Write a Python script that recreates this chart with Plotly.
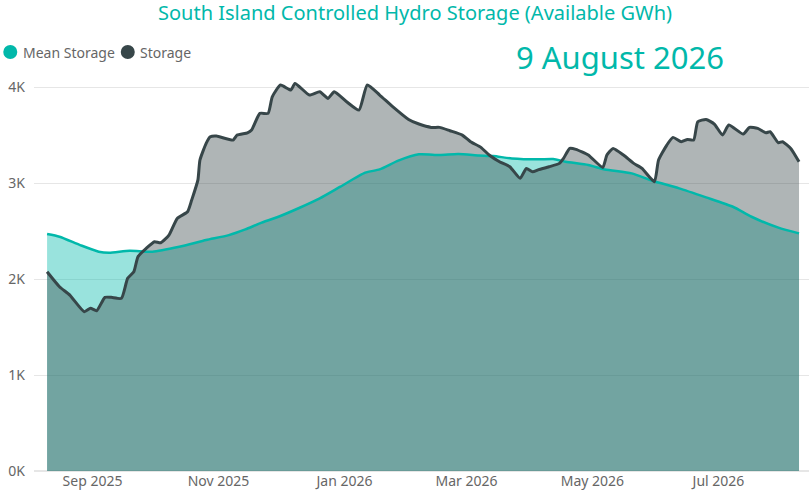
import plotly.graph_objects as go

# Mean storage (GWh)
mean_dates = [
    "2025-08-10", "2025-08-16", "2025-08-26", "2025-09-04", "2025-09-09", "2025-09-19",
    "2025-09-30", "2025-10-13", "2025-10-26", "2025-11-06", "2025-11-14", "2025-11-21",
    "2025-11-30", "2025-12-10", "2025-12-20", "2025-12-30", "2026-01-11", "2026-01-18",
    "2026-01-27", "2026-02-06", "2026-02-16", "2026-02-25", "2026-03-07", "2026-03-14",
    "2026-03-23", "2026-04-05", "2026-04-12", "2026-04-18", "2026-04-29", "2026-05-07",
    "2026-05-20", "2026-05-30", "2026-06-12", "2026-06-25", "2026-07-08", "2026-07-17",
    "2026-07-30", "2026-08-09",
]
mean_storage = [
    2469, 2441, 2354, 2285, 2274, 2295,
    2285, 2337, 2406, 2458, 2517, 2580,
    2649, 2740, 2840, 2962, 3108, 3142,
    3233, 3299, 3292, 3302, 3288, 3281,
    3257, 3247, 3250, 3222, 3188, 3142,
    3101, 3024, 2945, 2851, 2753, 2649,
    2535, 2476,
]

# Actual storage (GWh)
storage_dates = [
    "2025-08-10", "2025-08-16", "2025-08-21", "2025-08-28", "2025-08-31", "2025-09-03",
    "2025-09-07", "2025-09-10", "2025-09-15", "2025-09-18", "2025-09-21", "2025-09-23",
    "2025-09-27", "2025-10-01", "2025-10-04", "2025-10-08", "2025-10-12", "2025-10-17",
    "2025-10-19", "2025-10-22", "2025-10-23", "2025-10-26", "2025-10-28", "2025-10-31",
    "2025-11-08", "2025-11-10", "2025-11-15", "2025-11-17", "2025-11-21", "2025-11-25",
    "2025-11-27", "2025-12-01", "2025-12-06", "2025-12-08", "2025-12-15", "2025-12-20",
    "2025-12-24", "2025-12-27", "2026-01-02", "2026-01-08", "2026-01-12", "2026-01-18",
    "2026-01-24", "2026-02-01", "2026-02-06", "2026-02-12", "2026-02-16", "2026-02-21",
    "2026-02-27", "2026-03-03", "2026-03-08", "2026-03-12", "2026-03-17", "2026-03-22",
    "2026-03-27", "2026-03-30", "2026-04-02", "2026-04-05", "2026-04-10", "2026-04-15",
    "2026-04-17", "2026-04-20", "2026-04-23", "2026-04-29", "2026-05-06", "2026-05-08",
    "2026-05-11", "2026-05-16", "2026-05-21", "2026-05-25", "2026-05-31", "2026-06-02",
    "2026-06-06", "2026-06-09", "2026-06-13", "2026-06-16", "2026-06-19", "2026-06-21",
    "2026-06-25", "2026-06-29", "2026-07-03", "2026-07-06", "2026-07-13", "2026-07-16",
    "2026-07-20", "2026-07-24", "2026-07-26", "2026-07-30", "2026-08-01", "2026-08-05",
    "2026-08-09",
]
storage = [
    2076, 1920, 1833, 1660, 1695, 1670,
    1809, 1809, 1799, 2007, 2076, 2233,
    2320, 2389, 2378, 2458, 2632, 2701,
    2823, 3031, 3240, 3413, 3482, 3490,
    3448, 3500, 3524, 3552, 3726, 3726,
    3899, 4021, 3969, 4038, 3917, 3951,
    3882, 3951, 3847, 3760, 4021, 3917,
    3802, 3663, 3615, 3580, 3580, 3545,
    3500, 3431, 3372, 3292, 3222, 3170,
    3049, 3153, 3118, 3140, 3170, 3205,
    3257, 3361, 3351, 3292, 3163, 3292,
    3361, 3292, 3205, 3153, 3014, 3240,
    3396, 3476, 3431, 3455, 3448, 3639,
    3663, 3615, 3500, 3604, 3510, 3580,
    3570, 3524, 3535, 3420, 3431, 3361,
    3222,
]

y_ticks = [0, 1000, 2000, 3000, 4000]
y_labels = ["0K", "1K", "2K", "3K", "4K"]
x_ticks = ["2025-09-01", "2025-11-01", "2026-01-01", "2026-03-01", "2026-05-01", "2026-07-01"]
x_labels = ["Sep 2025", "Nov 2025", "Jan 2026", "Mar 2026", "May 2026", "Jul 2026"]

TEAL = "#01B8AA"
DARK = "#374649"
GREY = "#666666"

series = [
    ("Mean Storage", mean_dates, mean_storage, TEAL, "rgba(1,184,170,0.4)", 2.5, 0.6),
    ("Storage", storage_dates, storage, DARK, "rgba(55,70,73,0.4)", 3, 0.5),
]

fig = go.Figure()
# fills first, lines on top of both (as Power BI draws it)
for name, x, y, colour, fill, width, smooth in series:
    fig.add_trace(go.Scatter(
        x=x, y=y, name=name, mode="lines", hoverinfo="skip",
        line=dict(width=0, shape="spline", smoothing=smooth),
        fill="tozeroy", fillcolor=fill, showlegend=False,
    ))
for name, x, y, colour, fill, width, smooth in series:
    fig.add_trace(go.Scatter(
        x=x, y=y, name=name, mode="lines",
        line=dict(color=colour, width=width, shape="spline", smoothing=smooth),
        showlegend=False,
    ))

# legend drawn by hand: dot + label, like the Power BI one
legend_items = [("Mean Storage", TEAL, -0.0306, -0.0172), ("Storage", DARK, 0.121, 0.1338)]
shapes = []
annotations = []
for name, colour, dot_x, text_x in legend_items:
    shapes.append(dict(type="circle", xref="paper", yref="paper",
                       xsizemode="pixel", ysizemode="pixel",
                       xanchor=dot_x, yanchor=1.032, x0=-7, x1=7, y0=-7, y1=7,
                       fillcolor=colour, line=dict(width=0)))
    annotations.append(dict(text=name, xref="paper", yref="paper", x=text_x, y=1.032,
                            xanchor="left", yanchor="middle", showarrow=False,
                            font=dict(size=14, color=GREY)))
annotations.append(dict(text="9 August 2026", xref="paper", yref="paper",
                        x=0.756, y=1.02, xanchor="center", yanchor="middle",
                        showarrow=False, font=dict(color=TEAL, size=31)))

fig.update_layout(
    width=809, height=502,
    margin=dict(l=34, r=0, t=65, b=31, autoexpand=False),
    paper_bgcolor="white", plot_bgcolor="white",
    font=dict(family="Noto Sans", color=GREY, size=14),
    title=dict(text="South Island Controlled Hydro Storage (Available GWh)",
               font=dict(color=TEAL, size=20), xref="container", x=0.513,
               yref="container", y=0.974, xanchor="center", yanchor="middle"),
    showlegend=False,
    shapes=shapes,
    annotations=annotations,
)
fig.update_xaxes(
    range=["2025-08-03 16:00", "2026-08-13 20:00"], automargin=False,
    tickvals=x_ticks, ticktext=x_labels, showgrid=False, showline=False,
    zeroline=False, tickfont=dict(size=14, color=GREY),
)
fig.update_yaxes(
    range=[0, 4230], tickvals=y_ticks, ticktext=y_labels, automargin=False,
    gridcolor="#e6e6e6", gridwidth=1, zeroline=True, zerolinecolor="#e6e6e6",
    showline=False, ticklabelstandoff=8, tickfont=dict(size=14, color=GREY),
)

fig.write_html("out.html", config={"displayModeBar": False},
               post_script="document.body.style.margin = '0';")
